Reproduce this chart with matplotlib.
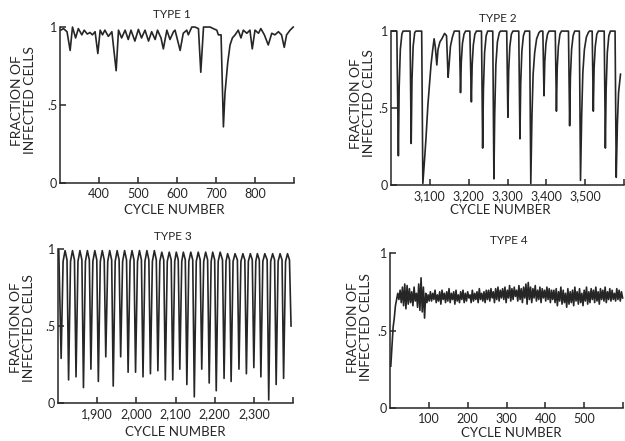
import numpy as np
import matplotlib.pyplot as plt

plt.rcParams['font.family'] = ['Lato', 'DejaVu Sans']

# ---- TYPE 1 (cycles 300-900) ----
t1 = [302, 309, 318, 326, 332, 340, 347, 356, 362, 370,
      377, 383, 390, 397, 403, 409, 415, 424, 433, 444,
      450, 458, 467, 475, 482, 492, 501, 509, 518, 527,
      535, 544, 550, 559, 565, 574, 582, 591, 595, 608,
      616, 625, 629, 638, 646, 655, 661, 668, 676, 685,
      693, 702, 706, 713, 719, 723, 730, 736, 742, 749,
      757, 764, 770, 779, 787, 793, 800, 809, 815, 824,
      834, 843, 851, 860, 868, 875, 881, 890, 898]
y1 = [0.98, 0.99, 0.97, 0.85, 1.0, 0.93, 0.99, 0.95, 0.98, 0.955,
      0.965, 0.95, 0.97, 0.83, 0.98, 0.95, 0.98, 0.94, 0.97, 0.72,
      0.98, 0.93, 0.98, 0.92, 0.98, 0.91, 0.985, 0.93, 0.98, 0.91,
      0.97, 0.92, 0.98, 0.93, 0.86, 0.98, 0.92, 0.97, 0.98, 0.85,
      0.96, 0.98, 0.95, 1.0, 1.0, 0.99, 0.71, 1.0, 1.0, 1.0,
      0.99, 0.98, 0.95, 0.95, 0.36, 0.575, 0.77, 0.885, 0.93, 0.95,
      0.98, 0.93, 0.98, 0.96, 0.98, 0.86, 0.98, 0.96, 0.99, 0.95,
      0.885, 0.96, 0.95, 0.97, 0.95, 0.87, 0.95, 0.98, 1.0]

# ---- TYPE 2 (cycles 3000-3600) ----
t2 = [3003, 3015, 3019, 3021, 3024, 3028, 3031,
      3049, 3052, 3054, 3057, 3061, 3064,
      3079, 3082, 3086, 3090, 3095, 3099, 3103, 3107, 3111, 3114, 3118, 3121,
      3126, 3131, 3138, 3143, 3147, 3149, 3153, 3158, 3163,
      3176, 3179, 3181, 3184, 3188, 3192,
      3203, 3207, 3209, 3212, 3216, 3220,
      3233, 3236, 3238, 3241, 3245, 3249,
      3262, 3265, 3267, 3270, 3274, 3279, 3282,
      3298, 3301, 3303, 3306, 3310, 3314,
      3329, 3332, 3334, 3337, 3341, 3345,
      3357, 3360, 3363, 3366, 3370, 3375, 3381, 3385,
      3391, 3394, 3396, 3399, 3403, 3407,
      3423, 3426, 3428, 3431, 3435, 3439,
      3457, 3460, 3462, 3465, 3469, 3473,
      3485, 3488, 3491, 3494, 3498, 3503, 3508, 3511,
      3518, 3521, 3523, 3526, 3530, 3534,
      3549, 3552, 3554, 3557, 3561, 3565,
      3577, 3580, 3583, 3586, 3591]
y2 = [1.0, 1.0, 0.19, 0.63, 0.88, 0.98, 1.0,
      1.0, 0.27, 0.68, 0.90, 0.99, 1.0,
      1.0, 0.01, 0.15, 0.30, 0.52, 0.65, 0.78, 0.87, 0.95, 0.90, 0.78, 0.88,
      0.93, 0.95, 0.985, 0.97, 0.70, 0.76, 0.90, 0.96, 1.0,
      1.0, 0.60, 0.80, 0.92, 0.98, 1.0,
      1.0, 0.54, 0.78, 0.91, 0.98, 1.0,
      1.0, 0.24, 0.62, 0.86, 0.97, 1.0,
      1.0, 0.04, 0.45, 0.78, 0.93, 0.99, 1.0,
      1.0, 0.44, 0.74, 0.90, 0.98, 1.0,
      1.0, 0.30, 0.66, 0.87, 0.97, 1.0,
      1.0, 0.01, 0.45, 0.72, 0.86, 0.95, 0.99, 1.0,
      1.0, 0.58, 0.80, 0.92, 0.98, 1.0,
      1.0, 0.48, 0.76, 0.90, 0.98, 1.0,
      1.0, 0.385, 0.70, 0.88, 0.97, 1.0,
      1.0, 0.03, 0.45, 0.73, 0.88, 0.96, 0.99, 1.0,
      1.0, 0.48, 0.76, 0.90, 0.98, 1.0,
      1.0, 0.24, 0.62, 0.86, 0.97, 1.0,
      1.0, 0.05, 0.40, 0.60, 0.72]

# ---- TYPE 3 (cycles 1800-2400): trough, shoulder, crest, shoulder ----
t3 = [1802,
      1808, 1813, 1818, 1823,  1827, 1832, 1837, 1842,  1846, 1851, 1856, 1861,
      1865, 1870, 1875, 1880,  1884, 1889, 1894, 1899,  1903, 1908, 1913, 1918,
      1922, 1927, 1932, 1937,  1941, 1946, 1951, 1956,  1960, 1965, 1970, 1975,
      1979, 1984, 1989, 1994,  1998, 2003, 2008, 2013,  2017, 2022, 2027, 2032,
      2036, 2041, 2046, 2051,  2055, 2060, 2065, 2070,  2074, 2079, 2084, 2089,
      2093, 2098, 2102, 2107,  2111, 2116, 2120, 2125,  2129, 2134, 2139, 2144,
      2148, 2153, 2158, 2163,  2167, 2172, 2177, 2182,  2186, 2191, 2195, 2200,
      2204, 2209, 2214, 2220,  2224, 2229, 2233, 2238,  2242, 2247, 2252, 2258,
      2262, 2267, 2272, 2277,  2281, 2286, 2291, 2296,  2300, 2305, 2309, 2314,
      2318, 2323, 2328, 2334,  2338, 2343, 2348, 2353,  2357, 2362, 2367, 2372,
      2376, 2381, 2386, 2391,
      2395]
y3 = [0.99,
      0.29, 0.92, 0.99, 0.93,  0.15, 0.92, 0.99, 0.93,  0.17, 0.92, 0.99, 0.93,
      0.10, 0.92, 0.99, 0.93,  0.22, 0.92, 0.99, 0.93,  0.14, 0.92, 0.99, 0.93,
      0.30, 0.92, 0.99, 0.93,  0.11, 0.92, 0.99, 0.93,  0.30, 0.92, 0.99, 0.93,
      0.20, 0.92, 0.99, 0.93,  0.20, 0.92, 0.99, 0.93,  0.17, 0.92, 0.99, 0.93,
      0.19, 0.92, 0.99, 0.93,  0.21, 0.92, 0.98, 0.93,  0.15, 0.92, 0.98, 0.93,
      0.15, 0.92, 0.98, 0.93,  0.22, 0.92, 0.98, 0.93,  0.12, 0.92, 0.98, 0.93,
      0.04, 0.92, 0.98, 0.93,  0.22, 0.92, 0.98, 0.93,  0.13, 0.92, 0.98, 0.93,
      0.08, 0.92, 0.98, 0.93,  0.16, 0.92, 0.97, 0.93,  0.14, 0.92, 0.97, 0.93,
      0.22, 0.92, 0.97, 0.93,  0.19, 0.92, 0.97, 0.93,  0.23, 0.92, 0.97, 0.93,
      0.17, 0.92, 0.97, 0.93,  0.02, 0.92, 0.97, 0.93,  0.12, 0.92, 0.97, 0.93,
      0.16, 0.92, 0.97, 0.93,
      0.50]

# ---- TYPE 4 (cycles 0-600), one reading every 3 cycles from cycle 2 ----
y4 = [0.27, 0.40, 0.52, 0.58, 0.66, 0.70, 0.74, 0.70, 0.76, 0.68,
      0.78, 0.66, 0.80, 0.64, 0.79, 0.67, 0.77, 0.68, 0.75, 0.66,
      0.78, 0.69, 0.74, 0.65, 0.80, 0.63, 0.84, 0.62, 0.78, 0.58,
      0.74, 0.68, 0.73, 0.69,
      0.75, 0.69, 0.74, 0.70, 0.76, 0.68, 0.73, 0.69, 0.75, 0.67,
      0.76, 0.70, 0.74, 0.68, 0.75, 0.69, 0.77, 0.68, 0.74, 0.70,
      0.75, 0.67, 0.76, 0.69, 0.73, 0.68, 0.75, 0.70, 0.76, 0.68,
      0.74, 0.69, 0.75, 0.71, 0.73, 0.68, 0.76, 0.69, 0.74, 0.70,
      0.75, 0.68, 0.77, 0.70, 0.74, 0.69, 0.75, 0.68, 0.76,
      0.70, 0.76, 0.69, 0.77, 0.71, 0.75, 0.68, 0.77, 0.70, 0.78,
      0.69, 0.76, 0.71, 0.77, 0.70, 0.78, 0.68, 0.76, 0.71, 0.79,
      0.69, 0.77, 0.70, 0.78, 0.72, 0.76, 0.69, 0.79, 0.70, 0.77,
      0.68, 0.78, 0.71, 0.80, 0.67, 0.81, 0.70, 0.78, 0.68, 0.77,
      0.71, 0.79, 0.69, 0.76, 0.70, 0.78, 0.68, 0.77, 0.71, 0.76,
      0.69, 0.78, 0.70, 0.77, 0.68, 0.76, 0.70,
      0.76, 0.68, 0.77, 0.66, 0.75, 0.69, 0.78, 0.67, 0.76, 0.68,
      0.74, 0.65, 0.77, 0.67, 0.75, 0.68, 0.76, 0.66, 0.78, 0.69,
      0.75, 0.67, 0.77, 0.68, 0.74, 0.66, 0.76, 0.69, 0.78, 0.67,
      0.75, 0.68, 0.77, 0.70, 0.76, 0.68, 0.78, 0.69, 0.75, 0.67,
      0.77, 0.70, 0.76, 0.69, 0.78, 0.68, 0.75, 0.70, 0.77, 0.69,
      0.76, 0.70, 0.74, 0.69, 0.77, 0.70, 0.76, 0.69, 0.75, 0.71]
t4 = np.arange(len(y4)) * 3 + 2

ticks1 = [400, 500, 600, 700, 800, 900]
ticks2 = [3100, 3200, 3300, 3400, 3500, 3600]
ticks3 = [1900, 2000, 2100, 2200, 2300, 2400]
ticks4 = [100, 200, 300, 400, 500, 600]

INK = '#262626'

fig = plt.figure(figsize=(6.25, 4.41), dpi=100)


def panel(rect, t, y, xlim, ticks, title, title_x, xlab_y, ylab_x, ylab_y):
    ax = fig.add_axes(rect)
    ax.plot(t, y, color=INK, lw=1.2, clip_on=False)
    ax.set_xlim(*xlim)
    ax.set_ylim(0, 1)
    for s in ['top', 'right']:
        ax.spines[s].set_visible(False)
    for s in ['left', 'bottom']:
        ax.spines[s].set_color(INK)
        ax.spines[s].set_linewidth(1.1)
    ax.set_xticks(ticks, [f"{v:,}" for v in ticks[:-1]] + [''])
    ax.set_yticks([0, 0.5, 1], ['0', '.5', '1'])
    ax.tick_params(direction='in', length=4, width=1.1, colors=INK, labelsize=9)
    ax.tick_params(axis='x', pad=3.5)
    ax.tick_params(axis='y', pad=2)
    ax.text(title_x, 1.08, title, transform=ax.transAxes, ha='center',
            va='center', fontsize=8.5, color=INK)
    ax.text(title_x + 0.01, xlab_y, 'CYCLE NUMBER', transform=ax.transAxes,
            ha='center', va='center', fontsize=9.5, color=INK)
    ax.text(ylab_x, ylab_y, 'FRACTION OF\nINFECTED CELLS', transform=ax.transAxes,
            ha='center', va='center', rotation=90, fontsize=10,
            linespacing=1.1, color=INK)
    return ax


panel([0.096, 0.585, 0.3744, 0.3537], t1, y1, (300, 900), ticks1, 'TYPE 1',
      0.48, -0.175, -0.154, 0.53)
panel([0.6256, 0.5805, 0.3728, 0.349], t2, y2, (3000, 3600), ticks2, 'TYPE 2',
      0.46, -0.165, -0.124, 0.53)
panel([0.0928, 0.0862, 0.376, 0.349], t3, y3, (1800, 2400), ticks3, 'TYPE 3',
      0.49, -0.19, -0.151, 0.49)
panel([0.624, 0.0748, 0.3728, 0.3515], t4, y4, (0, 600), ticks4, 'TYPE 4',
      0.51, -0.163, -0.129, 0.52)

fig.savefig('out.png', dpi=100, facecolor='white')
